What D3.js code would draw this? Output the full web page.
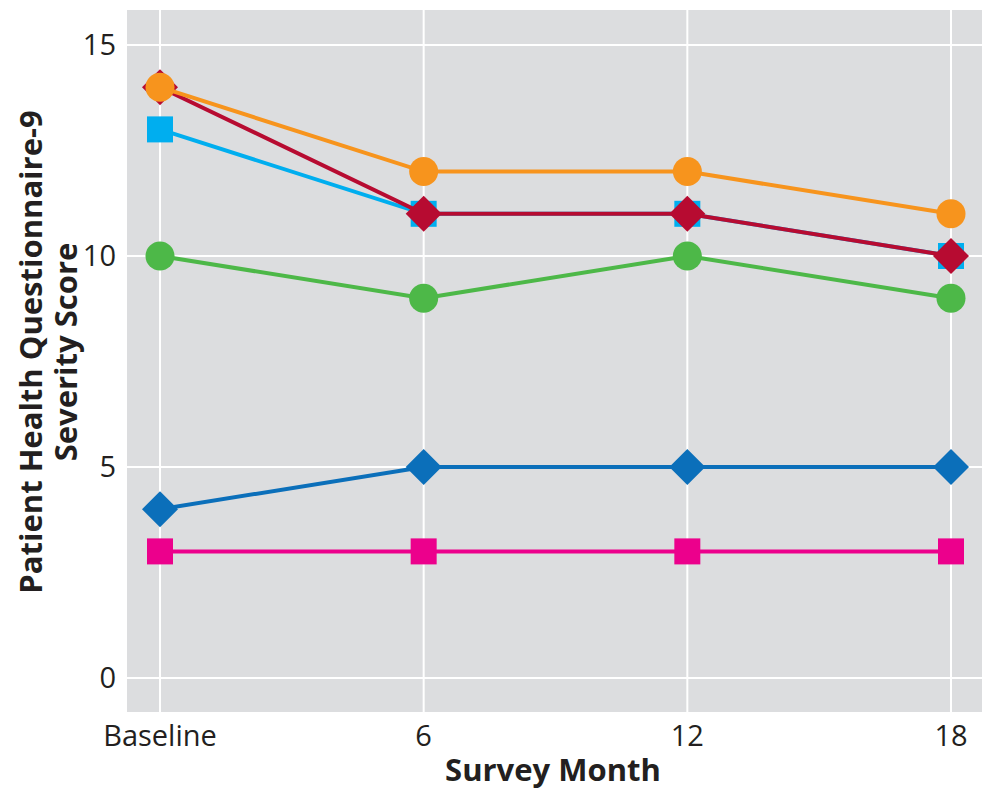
<!DOCTYPE html>
<html><head><meta charset="utf-8">
<script src="https://cdn.jsdelivr.net/npm/d3@7"></script>
<style>body{margin:0;background:#fff}svg{display:block}text{font-family:"Open Sans",Lato,sans-serif;fill:#231f20}</style>
</head><body>
<script>
const categories = ["Baseline","6","12","18"];
const yTicks = [0,5,10,15];
const orangeCircle = [14,12,12,11];
const redDiamond = [14,11,11,10];
const cyanSquare = [13,11,11,10];
const greenCircle = [10,9,10,9];
const blueDiamond = [4,5,5,5];
const magentaSquare = [3,3,3,3];

const series = [
  {values: greenCircle, color:"#4db848", shape:"circle"},
  {values: blueDiamond, color:"#0b6fba", shape:"diamond"},
  {values: magentaSquare, color:"#ec008c", shape:"square"},
  {values: cyanSquare, color:"#00aeef", shape:"square"},
  {values: redDiamond, color:"#b70b31", shape:"diamond"},
  {values: orangeCircle, color:"#f7941d", shape:"circle"}
];

const W=982,H=792;
const svg=d3.select("body").append("svg").attr("width",W).attr("height",H);
const x=d3.scalePoint().domain(categories).range([160,951]);
const y=d3.scaleLinear().domain([0,15]).range([678,45]);
const plot={l:127,r:982,t:10,b:712};

svg.append("rect").attr("x",plot.l).attr("y",plot.t).attr("width",plot.r-plot.l).attr("height",plot.b-plot.t).attr("fill","#dcdddf");
svg.selectAll(".vg").data(categories).join("line").attr("x1",d=>x(d)).attr("x2",d=>x(d)).attr("y1",plot.t).attr("y2",plot.b).attr("stroke","#fff").attr("stroke-width",2);
svg.selectAll(".hg").data(yTicks).join("line").attr("y1",d=>y(d)).attr("y2",d=>y(d)).attr("x1",plot.l).attr("x2",plot.r).attr("stroke","#fff").attr("stroke-width",2);

svg.selectAll(".yt").data(yTicks).join("text").attr("x",116).attr("y",d=>y(d)).attr("dy","0.36em").attr("text-anchor","end").attr("font-size",29).text(d=>d);
svg.selectAll(".xt").data(categories).join("text").attr("x",d=>x(d)).attr("y",746).attr("text-anchor","middle").attr("font-size",29).text(d=>d);

svg.append("text").attr("x",553).attr("y",781).attr("text-anchor","middle").attr("font-size",31).attr("font-weight","bold").text("Survey Month");
const yl=svg.append("text").attr("transform","translate(0,352) rotate(-90)").attr("text-anchor","middle").attr("font-size",31).attr("font-weight","bold");
yl.append("tspan").attr("x",0).attr("y",42).text("Patient Health Questionnaire-9");
yl.append("tspan").attr("x",0).attr("y",77).text("Severity Score");

const line=d3.line().x((d,i)=>x(categories[i])).y(d=>y(d));
series.forEach(s=>{
  const g=svg.append("g");
  g.append("path").attr("d",line(s.values)).attr("fill","none").attr("stroke",s.color).attr("stroke-width",4);
  s.values.forEach((v,i)=>{
    const cx=x(categories[i]), cy=y(v);
    if(s.shape==="circle") g.append("circle").attr("cx",cx).attr("cy",cy).attr("r",14.5).attr("fill",s.color);
    else if(s.shape==="square") g.append("rect").attr("x",cx-13).attr("y",cy-13).attr("width",26).attr("height",26).attr("fill",s.color);
    else g.append("path").attr("d",`M${cx},${cy-18}L${cx+18},${cy}L${cx},${cy+18}L${cx-18},${cy}Z`).attr("fill",s.color);
  });
});
</script>
</body></html>
